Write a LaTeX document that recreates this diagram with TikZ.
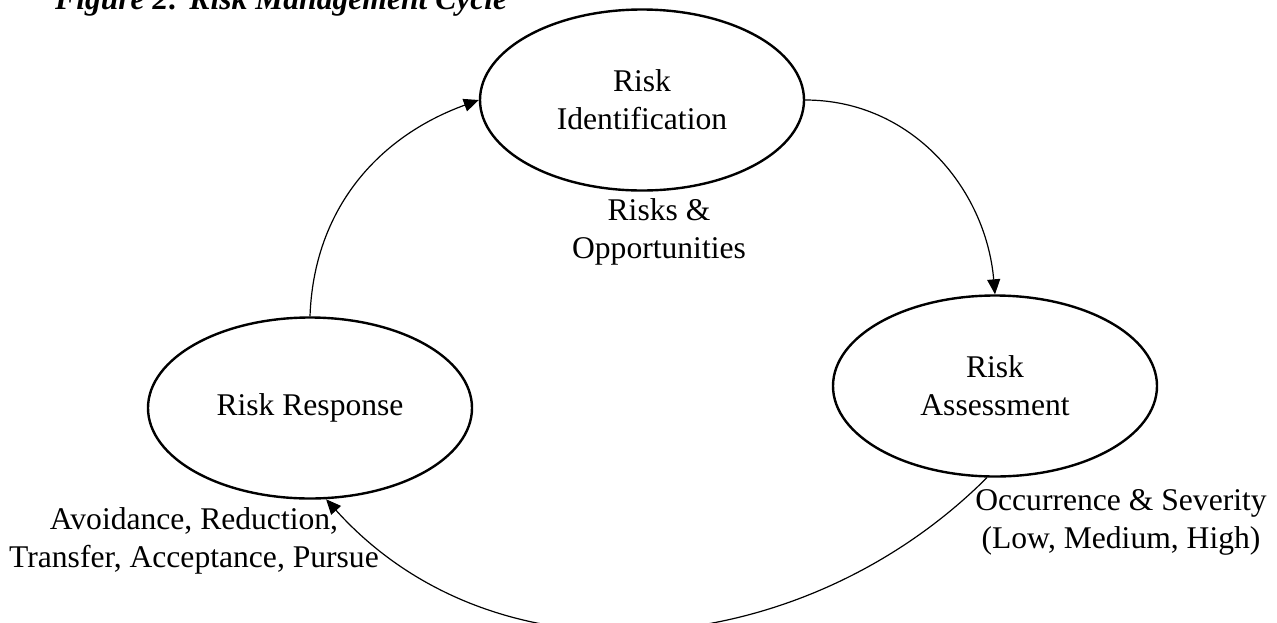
\documentclass[tikz,border=0pt]{standalone}
\usepackage{fontspec}
\setmainfont{Liberation Serif}
\usetikzlibrary{positioning, arrows.meta, shapes.geometric}

\begin{document}
\begin{tikzpicture}[
    x=1pt, y=1pt,
    every node/.style={font=\fontsize{31.6}{38}\selectfont, align=center, inner sep=0pt},
    stage/.style={draw, ellipse, line width=2.4pt, minimum width=324pt, minimum height=181pt},
    arrow/.style={-{Triangle[length=15pt, width=13pt]}, line width=1.2pt}
]
\useasboundingbox (0,-622) rectangle (1277,0);

% Title
\node[anchor=base west, font=\fontsize{31.6}{38}\selectfont\bfseries\itshape] (title) at (55,-9) {Figure 2: Risk Management Cycle};

% Nodes
\node[stage] (ident) at (642,-100) {Risk\\Identification};

\node[stage] (assess) at (995,-386) {Risk\\Assessment};

\node[stage] (resp) at (310,-408) {Risk Response};

% Labels
\node (opps) at (659,-232) {Risks \&\\Opportunities};

\node (levels) at (1121,-522) {Occurrence \& Severity\\(Low, Medium, High)};

\node (actions) at (194,-541) {Avoidance, Reduction,\\Transfer, Acceptance, Pursue};

% Arrows
\draw[arrow] (ident.east) to[out=0, in=95] (assess.north);

\draw[arrow] (assess.265) to[out=225, in=-48] (resp.-80);

\draw[arrow] (resp.north) to[out=88, in=200] (ident.west);

\end{tikzpicture}
\end{document}
